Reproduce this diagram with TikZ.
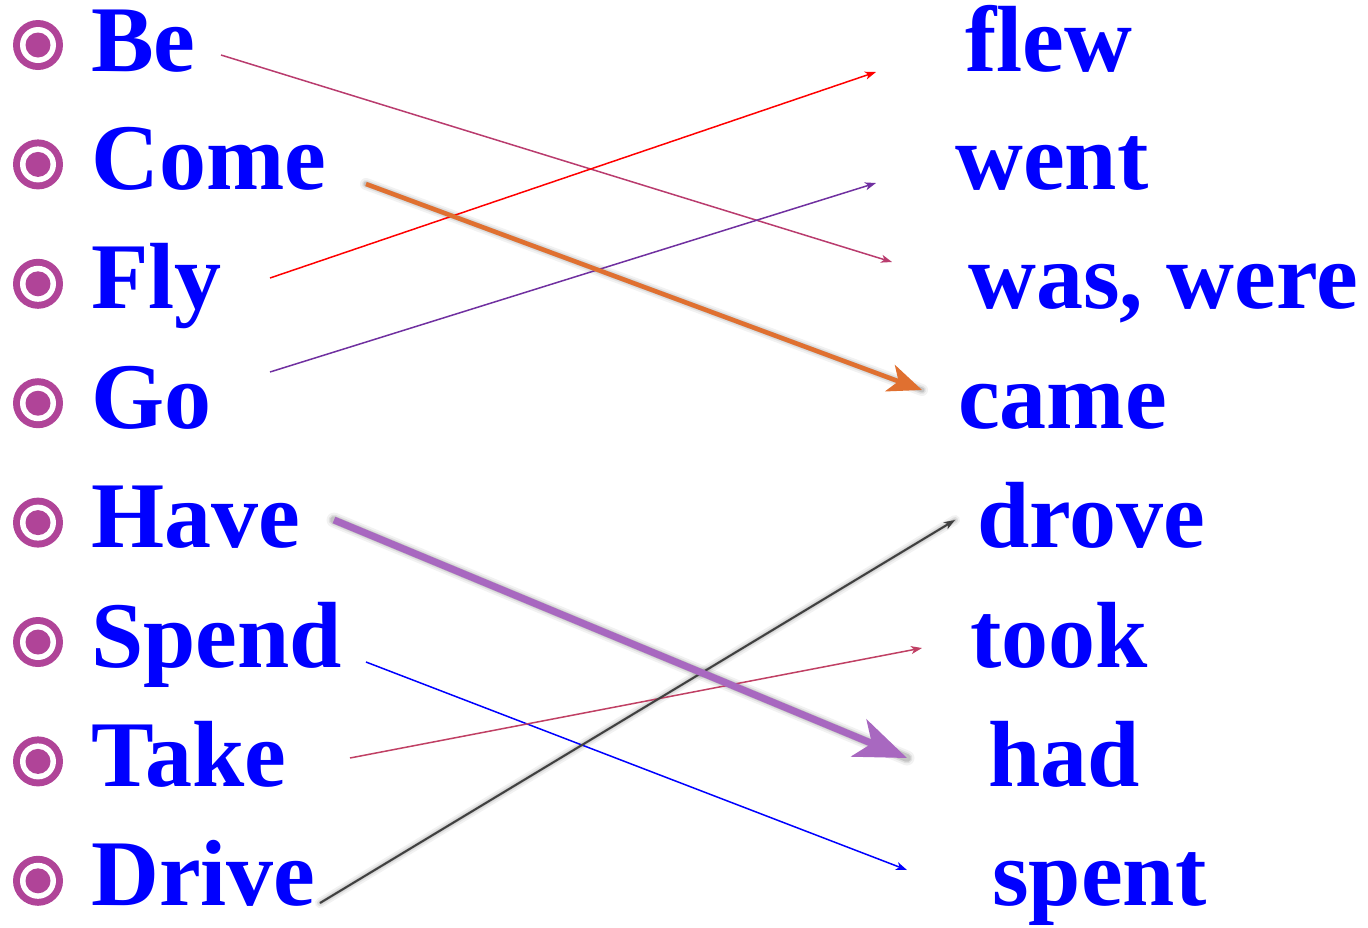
\documentclass[tikz,border=0pt]{standalone}
\usepackage{fontspec}
\setmainfont{Liberation Serif}
\usetikzlibrary{arrows.meta}
\definecolor{bulletc}{RGB}{176,68,152}
\definecolor{wordc}{RGB}{0,0,255}
\definecolor{bec}{RGB}{185,60,110}
\definecolor{goc}{RGB}{112,48,160}
\definecolor{takec}{RGB}{192,64,100}
\definecolor{drivec}{RGB}{64,64,64}
\definecolor{comec}{RGB}{224,112,48}
\definecolor{havec}{RGB}{168,104,192}
\tikzset{
  word/.style={anchor=base west, inner sep=0pt, text height=64pt, text depth=20pt, text=wordc, font=\bfseries\fontsize{94}{94}\selectfont},
  thin/.style={line width=1.5pt, -{Stealth[length=11pt,width=8pt,inset=3pt]}},
}
\newcommand{\mybullet}[2]{%
  \fill[bulletc] (#1,#2) circle (25);
  \fill[white] (#1,#2) circle (18);
  \fill[bulletc] (#1,#2) circle (12.5);
}
\begin{document}
\begin{tikzpicture}[x=1pt,y=-1pt]
\useasboundingbox (0,0) rectangle (1368,927);
% bullets
\foreach \yy in {45,164.4,283.8,403.2,522.6,642,761.4,880.8} {\mybullet{38}{\yy}}
% left words
\node[word] (be) at (91,71) {Be};
\node[word] (come) at (91,189.4) {Come};
\node[word] (fly) at (91,308.8) {Fly};
\node[word] (go) at (91,428.2) {Go};
\node[word] (have) at (91,547.6) {Have};
\node[word] (spend) at (91,667) {Spend};
\node[word] (take) at (91,786.4) {Take};
\node[word] (drive) at (91,905.8) {Drive};
% right words
\node[word] (flew) at (965,71) {flew};
\node[word] (went) at (955,189.4) {went};
\node[word] (was) at (968,308.8) {was, were};
\node[word] (came) at (958,428.2) {came};
\node[word] (drove) at (977,547.6) {drove};
\node[word] (took) at (970,667) {took};
\node[word] (had) at (988,786.4) {had};
\node[word] (spent) at (992,905.8) {spent};
% connector ends
\coordinate (be-e) at (221,55);   \coordinate (was-e) at (892,262);
\coordinate (come-e) at (366,184); \coordinate (came-e) at (922,390);
\coordinate (fly-e) at (270,278); \coordinate (flew-e) at (876,72);
\coordinate (go-e) at (270,372);  \coordinate (went-e) at (876,183);
\coordinate (have-e) at (334,520); \coordinate (had-e) at (907,758);
\coordinate (spend-e) at (366,662); \coordinate (spent-e) at (907,870);
\coordinate (take-e) at (350,758); \coordinate (took-e) at (922,648);
\coordinate (drive-e) at (320,903); \coordinate (drove-e) at (955,520);
% shadows
\begin{scope}[shift={(3,7)}]
  \foreach \w/\o in {12/0.05,8/0.08,5/0.12} {
    \draw[black, opacity=\o, line width=\w pt, line cap=round] (come-e) -- (came-e);
    \draw[black, opacity=\o, line width=\w pt+3pt, line cap=round] (have-e) -- (had-e);
    \draw[black, opacity=\o, line width=\w pt-2pt, line cap=round] (drive-e) -- (drove-e);
  }
\end{scope}
% thin connectors
\draw[thin, bec] (be-e) -- (was-e);
\draw[thin, red] (fly-e) -- (flew-e);
\draw[thin, goc] (go-e) -- (went-e);
\draw[thin, blue] (spend-e) -- (spent-e);
\draw[thin, takec] (take-e) -- (took-e);
\draw[thin, drivec, line width=2pt] (drive-e) -- (drove-e);
% thick connectors
\draw[comec, line width=4.5pt, -{Stealth[length=34pt,width=28pt,inset=9pt]}] (come-e) -- (came-e);
\draw[havec, line width=7pt, -{Stealth[length=52pt,width=40pt,inset=14pt]}] (have-e) -- (had-e);
\end{tikzpicture}
\end{document}
